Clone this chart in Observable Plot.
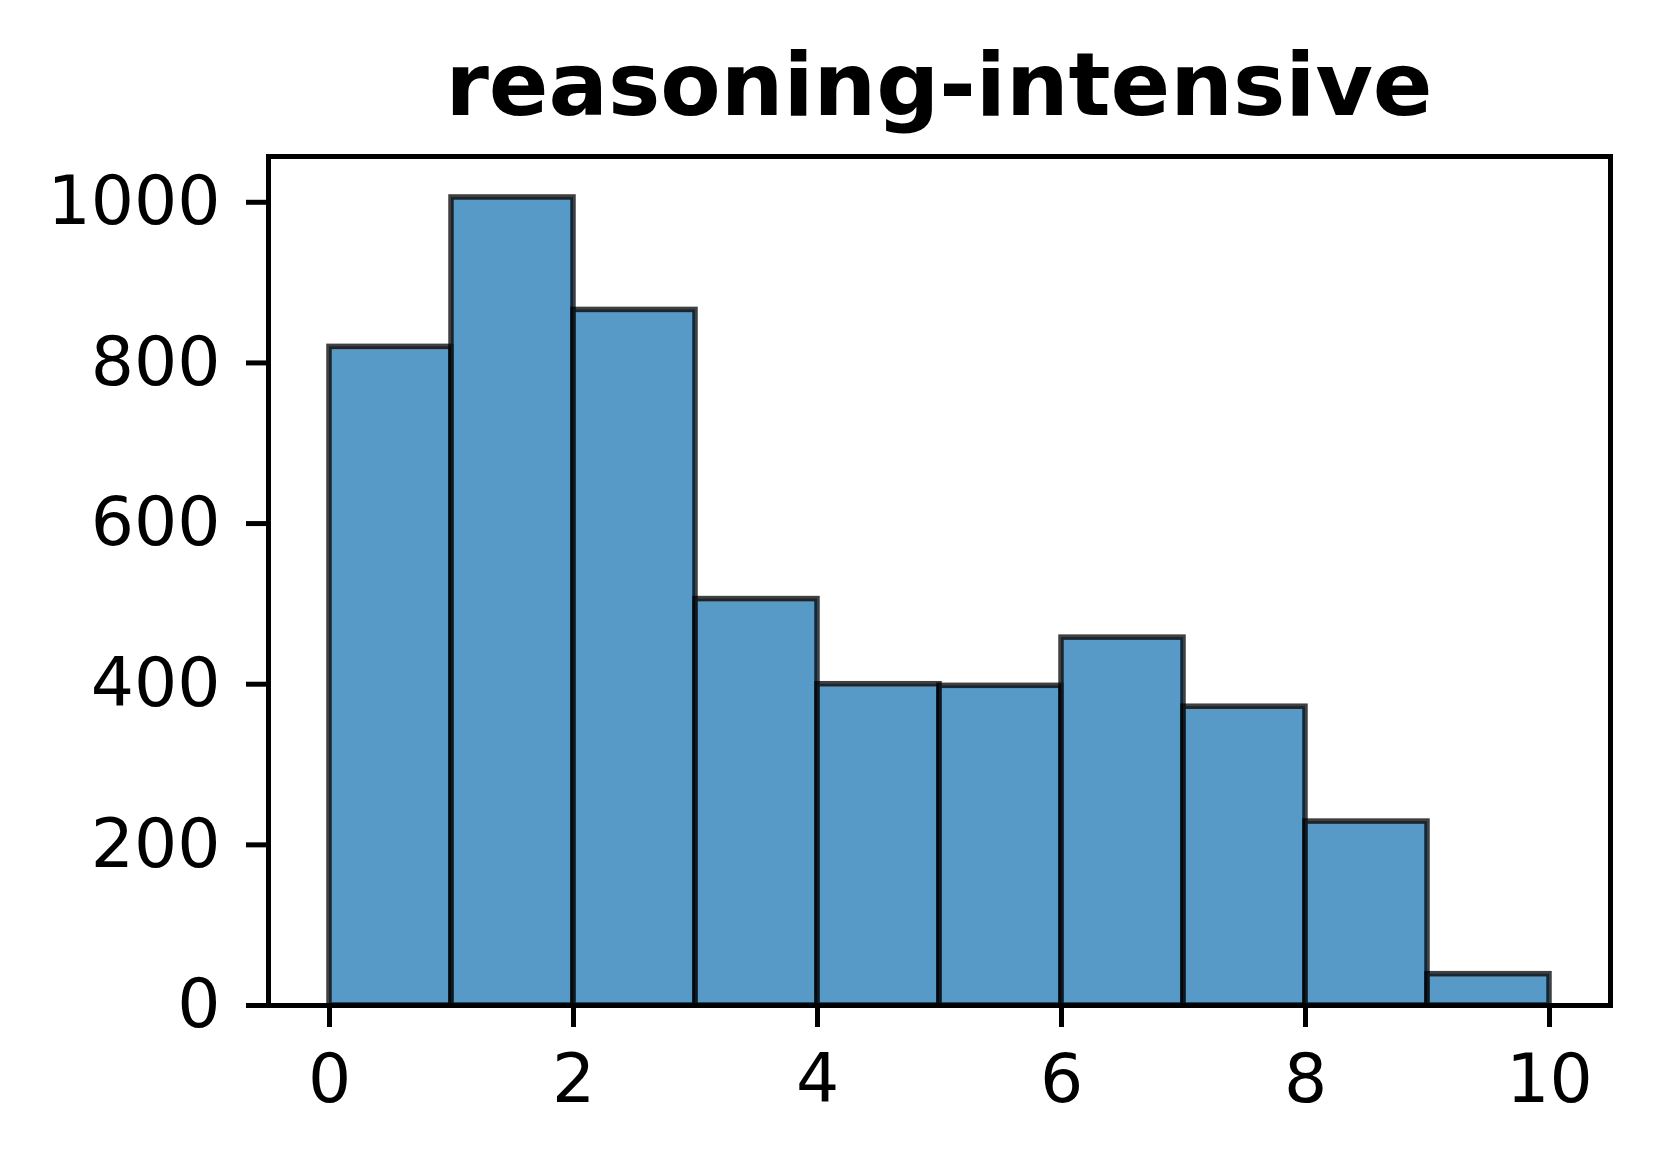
<!DOCTYPE html>
<html>
<head>
<meta charset="utf-8">
<script src="https://cdn.jsdelivr.net/npm/d3@7"></script>
<script src="https://cdn.jsdelivr.net/npm/@observablehq/plot@0.6"></script>
<style>
  html, body { margin: 0; padding: 0; background: white; }
  #wrap { position: relative; width: 1660px; height: 1167px; }
  #title {
    position: absolute; left: 268px; width: 1342px; top: 41px;
    text-align: center; font-family: "DejaVu Sans"; font-weight: bold;
    font-size: 88px; line-height: 1; color: black; white-space: nowrap;
  }
</style>
</head>
<body>
<div id="wrap">
  <div id="chart"></div>
  <div id="title">reasoning-intensive</div>
</div>
<script>
const titleText = "reasoning-intensive";
const binEdges = [0, 1, 2, 3, 4, 5, 6, 7, 8, 9, 10];
const counts = [820, 1006, 866, 506, 400, 398, 458, 372, 229, 39];
const xTicks = [0, 2, 4, 6, 8, 10];
const yTicks = [0, 200, 400, 600, 800, 1000];

const bins = counts.map((c, i) => ({x1: binEdges[i], x2: binEdges[i + 1], count: c}));

const plot = Plot.plot({
  width: 1660,
  height: 1167,
  marginLeft: 268,
  marginRight: 50,
  marginTop: 156,
  marginBottom: 162,
  style: {fontFamily: "DejaVu Sans", fontSize: "68px", background: "white", color: "black"},
  x: {domain: [-0.5, 10.5]},
  y: {domain: [0, 1057]},
  marks: [
    Plot.rectY(bins, {x1: "x1", x2: "x2", y: "count", fill: "#1f77b4", fillOpacity: 0.75,
      stroke: "black", strokeOpacity: 0.75, strokeWidth: 5.5}),
    Plot.frame({stroke: "black", strokeWidth: 5}),
    Plot.axisX({ticks: xTicks, tickSize: 22, tickPadding: 26, strokeWidth: 5, fontSize: 68, label: null, tickFormat: d => String(d)}),
    Plot.axisY({ticks: yTicks, tickSize: 22, tickPadding: 26, strokeWidth: 5, fontSize: 68, label: null, tickFormat: d => String(d)})
  ]
});
document.getElementById("chart").appendChild(plot);
document.getElementById("title").textContent = titleText;
</script>
</body>
</html>
